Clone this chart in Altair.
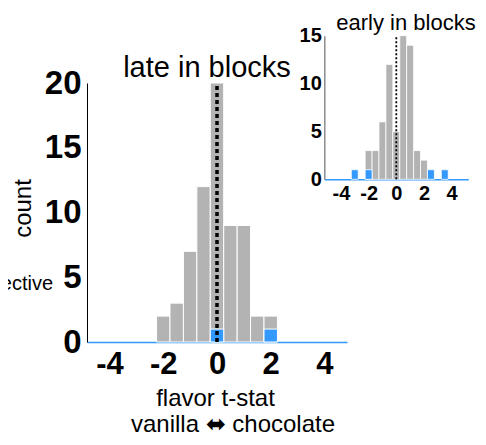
import altair as alt
import pandas as pd

# ---- data ----
bin_centers = [-2, -1.5, -1, -0.5, 0, 0.5, 1, 1.5, 2]
late_counts = [2, 3, 7, 12, 20, 9, 9, 2, 2]
late_sig_centers = [0, 2]
late_sig_counts = [1, 1]
early_counts = [3, 3, 6, 12, 5, 15, 14, 3, 2]
early_sig_centers = [-3, -2, 2.5, 3.5]
early_sig_counts = [1, 1, 1, 1]
BIN_W = 0.5
x_ticks = [-4, -2, 0, 2, 4]
late_y_ticks = [0, 5, 10, 15, 20]
early_y_ticks = [0, 5, 10, 15]

GRAY = "#b3b3b3"
BLUE = "#3399ff"
FONT = "Liberation Sans"

W, H = 391, 334


def hist_df(centers, counts):
    return pd.DataFrame({
        "lo": [c - BIN_W / 2 for c in centers],
        "hi": [c + BIN_W / 2 for c in centers],
        "count": counts,
    })


late_df = hist_df(bin_centers, late_counts)
late_sig_df = hist_df(late_sig_centers, late_sig_counts)
early_df = hist_df(bin_centers, early_counts)
early_sig_df = hist_df(early_sig_centers, early_sig_counts)

# ---- main panel ----
mx = alt.Scale(domain=[-4.84, 4.84], range=[0, 260], nice=False, zero=False)
my = alt.Scale(domain=[0, 20], range=[334, 75], nice=False)

main_xaxis = alt.Axis(
    values=x_ticks, grid=False, ticks=False, tickSize=0, labelFlush=False,
    labelOverlap=False, labelExpr="toString(datum.value)",
    labelFont=FONT, labelFontWeight="bold", labelFontSize=31, labelColor="black",
    labelPadding=7, domainColor=BLUE, domainWidth=1.5,
    title="flavor t-stat", titleFont=FONT, titleFontWeight="normal",
    titleFontSize=24, titleColor="black", titleBaseline="alphabetic",
    titleX=128, titleY=63,
)
main_yaxis = alt.Axis(
    values=late_y_ticks, grid=False, ticks=False, tickSize=0, labelFlush=False,
    labelOverlap=False, labelExpr="toString(datum.value)",
    labelFont=FONT, labelFontWeight="bold", labelFontSize=33, labelColor="black",
    labelPadding=6, domainColor="black", domainWidth=1,
    title="count", titleFont=FONT, titleFontWeight="normal", titleFontSize=24,
    titleColor="black", titleAngle=270, titleBaseline="alphabetic",
    titleAlign="center", titleX=-56.5, titleY=200,
)


def bars(df, color, xs, ys, xaxis, yaxis, sw):
    return alt.Chart(df).mark_bar(color=color, stroke="white", strokeWidth=sw).encode(
        x=alt.X("lo:Q", scale=xs, axis=xaxis), x2="hi:Q",
        y=alt.Y("count:Q", scale=ys, axis=yaxis), y2=alt.datum(0),
    )


late_bars = bars(late_df, GRAY, mx, my, main_xaxis, main_yaxis, 1)
late_sig = bars(late_sig_df, BLUE, mx, my, main_xaxis, main_yaxis, 1)
late_rule = alt.Chart(pd.DataFrame({"x": [0], "y0": [0], "y1": [20]})).mark_rule(
    color="black", strokeWidth=3.5, strokeDash=[4, 3]
).encode(
    x=alt.X("x:Q", scale=mx, axis=main_xaxis),
    y=alt.Y("y0:Q", scale=my, axis=main_yaxis), y2="y1:Q",
)


def label(text, x, y, size, align="center"):
    return alt.Chart(pd.DataFrame({"t": [text]})).mark_text(
        font=FONT, fontSize=size, align=align, baseline="alphabetic", color="black"
    ).encode(x=alt.value(x), y=alt.value(y), text="t:N")


main_title = label("late in blocks", 120, 68.5, 29)
side_note = label("selective", -34, 282, 20, align="right")
direction = label("vanilla \u2b0c chocolate", 146, 424, 24)

main = alt.layer(late_bars, late_sig, late_rule, main_title, side_note, direction)

# ---- inset panel ----
ix = alt.Scale(domain=[-5.2, 5.2], range=[237.3, 381.3], nice=False, zero=False)
iy = alt.Scale(domain=[0, 15], range=[171.3, 27.7], nice=False)

inset_xaxis = alt.Axis(
    orient="bottom", offset=-162.7, values=x_ticks, grid=False, ticks=False,
    tickSize=0, labelFlush=False, labelOverlap=False,
    labelExpr="toString(datum.value)", labelFont=FONT, labelFontWeight="bold",
    labelFontSize=20, labelColor="black", labelPadding=4,
    domainColor=BLUE, domainWidth=1.5, title=None,
)
inset_yaxis = alt.Axis(
    orient="left", offset=-237.3, values=early_y_ticks, grid=False, ticks=False,
    tickSize=0, labelFlush=False, labelOverlap=False,
    labelExpr="toString(datum.value)", labelFont=FONT, labelFontWeight="bold",
    labelFontSize=20, labelColor="black", labelPadding=3,
    domainColor="#8c8c8c", domainWidth=1.5, title=None,
)

early_bars = bars(early_df, GRAY, ix, iy, inset_xaxis, inset_yaxis, 0.8)
early_sig = bars(early_sig_df, BLUE, ix, iy, inset_xaxis, inset_yaxis, 0.8)
early_rule = alt.Chart(pd.DataFrame({"x": [0], "y0": [0], "y1": [15]})).mark_rule(
    color="black", strokeWidth=1.8, strokeDash=[2, 2]
).encode(
    x=alt.X("x:Q", scale=ix, axis=inset_xaxis),
    y=alt.Y("y0:Q", scale=iy, axis=inset_yaxis), y2="y1:Q",
)
inset_title = label("early in blocks", 319, 22, 22)

inset = alt.layer(early_bars, early_sig, early_rule, inset_title)

chart = alt.layer(main, inset).resolve_scale(
    x="independent", y="independent"
).resolve_axis(
    x="independent", y="independent"
).properties(
    width=W, height=H,
    autosize=alt.AutoSizeParams(type="none"),
    padding={"left": 79, "top": 0, "right": 0, "bottom": 95},
).configure_view(stroke=None)

chart.save("out.html", embed_options={"renderer": "svg", "actions": False})
